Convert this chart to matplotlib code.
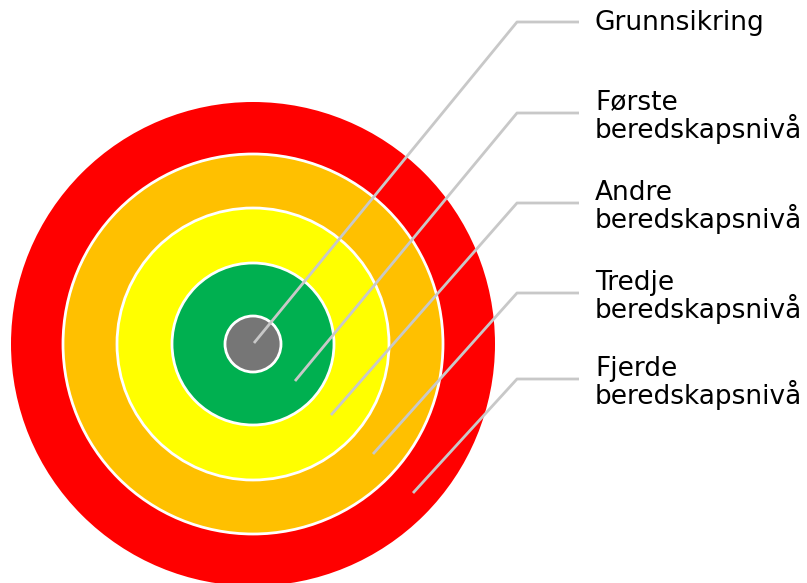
import matplotlib.pyplot as plt
from matplotlib.patches import Circle

# ring data, outermost first (radius in px of the 807x583 canvas)
ring_names = ['Fjerde\nberedskapsnivå', 'Tredje\nberedskapsnivå', 'Andre\nberedskapsnivå',
              'Første\nberedskapsnivå', 'Grunnsikring']
ring_radius = [242, 190, 136, 81, 28]
ring_colors = ['#FF0000', '#FFC000', '#FFFF00', '#00B050', '#767676']

# where each leader line ends inside its ring, and where its label sits
anchor_x = [413, 373, 331, 295, 254]
anchor_y = [493, 454, 415, 381, 343]
label_y = [379, 293, 203, 113, 22]

center = (253, 344)

fig = plt.figure(figsize=(8.07, 5.83), dpi=100)
ax = fig.add_axes([0, 0, 1, 1])
ax.set_xlim(0, 807)
ax.set_ylim(583, 0)
ax.set_aspect('equal')
ax.axis('off')

# draw the target rings
for i, (r, c) in enumerate(zip(ring_radius, ring_colors)):
    edge = 'none' if i == 0 else 'white'
    ax.add_patch(Circle(center, r, facecolor=c, edgecolor=edge, linewidth=2, zorder=i + 1))

# leader lines and labels
line_col = '#C8C8C8'
for name, ax_x, ax_y, ly in zip(ring_names, anchor_x, anchor_y, label_y):
    ax.plot([ax_x, 517, 579], [ax_y, ly, ly], color=line_col, linewidth=2,
            solid_capstyle='butt', zorder=10)
    ty = ly + 1 if '\n' not in name else ly + 4
    ax.text(595, ty, name, fontsize=19, family='DejaVu Sans', va='center', ha='left',
            linespacing=0.95, color='black')

fig.savefig('out.png', dpi=100)
